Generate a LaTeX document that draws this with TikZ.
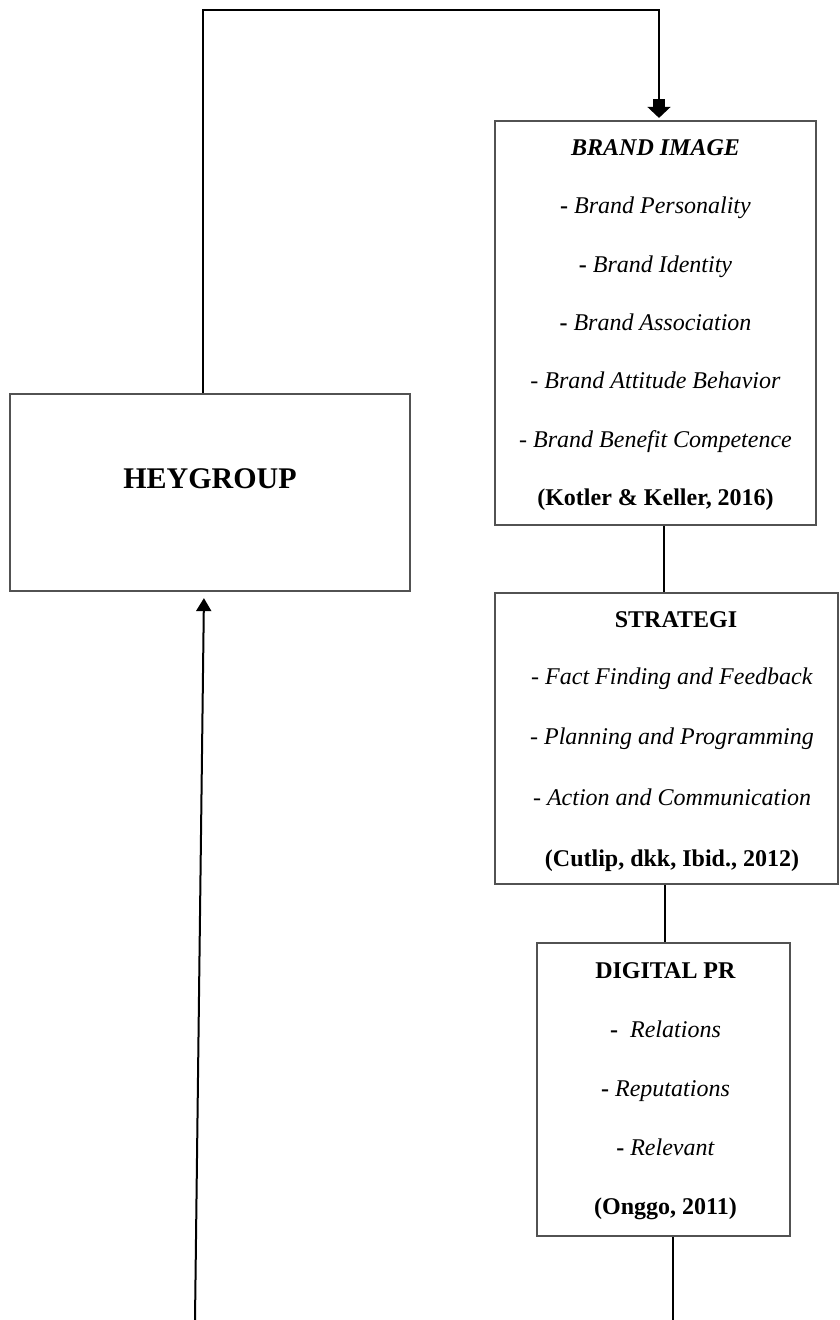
\documentclass[tikz,border=0pt]{standalone}
\usepackage{fontspec}
\setmainfont{Liberation Serif}
\usetikzlibrary{arrows.meta}
\begin{document}
\begin{tikzpicture}[x=1pt,y=-1pt,
  box/.style={draw=black!68, line width=2.2pt, rectangle, inner sep=0pt},
  txt/.style={anchor=base, inner sep=0pt, font=\fontsize{24}{28}\selectfont},
  bigtxt/.style={anchor=base, inner sep=0pt, font=\fontsize{30}{34}\selectfont\bfseries},
  conn/.style={draw=black, line width=1.5pt}]
\fill[white] (0,0) rectangle (840,1320);
\useasboundingbox (0,0) rectangle (840,1320);

% boxes
\node[box, minimum width=400pt, minimum height=197pt] (hey) at (210,492.5) {};
\node[box, minimum width=321pt, minimum height=404pt] (brand) at (655.5,323) {};
\node[box, minimum width=343pt, minimum height=291pt] (strat) at (666.5,738.5) {};
\node[box, minimum width=253pt, minimum height=293pt] (dpr) at (663.5,1089.5) {};

% HEYGROUP text
\node[bigtxt] (heyt) at (210,488) {HEYGROUP};

% Brand image text
\node[txt] (b1) at (655.5,155) {\textbf{\textit{BRAND IMAGE}}};
\node[txt] (b2) at (655.5,213) {\textbf{-} \textit{Brand Personality}};
\node[txt] (b3) at (655.5,272) {\textbf{-} \textit{Brand Identity}};
\node[txt] (b4) at (655.5,330) {\textbf{-} \textit{Brand Association}};
\node[txt] (b5) at (655.5,388) {\textit{- Brand Attitude Behavior}};
\node[txt] (b6) at (655.5,447) {\textit{- Brand Benefit Competence}};
\node[txt] (b7) at (655.5,505) {\textbf{(Kotler \& Keller, 2016)}};

% Strategi text
\node[txt] (s1) at (676,627) {\textbf{STRATEGI}};
\node[txt] (s2) at (672,684) {\textit{- Fact Finding and Feedback}};
\node[txt] (s3) at (672,744) {\textit{- Planning and Programming}};
\node[txt] (s4) at (672,805) {\textit{- Action and Communication}};
\node[txt] (s5) at (672,866) {\textbf{(Cutlip, dkk, Ibid., 2012)}};

% Digital PR text
\node[txt] (d1) at (665.5,978) {\textbf{DIGITAL PR}};
\node[txt] (d2) at (665.5,1037) {\textbf{-}\ \ \textit{Relations}};
\node[txt] (d3) at (665.5,1096) {\textbf{-} \textit{Reputations}};
\node[txt] (d4) at (665.5,1155) {\textbf{-} \textit{Relevant}};
\node[txt] (d5) at (665.5,1214) {\textbf{(Onggo, 2011)}};

% connector coordinates
\coordinate (tl) at (203,10);
\coordinate (tr) at (659,10);
\coordinate (xa) at (664,0);
\coordinate (xb) at (665,0);
\coordinate (bot) at (673,1320);
\coordinate (lb) at (195,1320);
\coordinate (xc) at (204,0);

% connectors
\draw[conn, -{Rectangle[length=8pt,width=12pt,sep=0pt]Triangle[length=11pt,width=23pt,sep=0pt]}, shorten >=2pt]
  (hey.north -| tl) -- (tl) -- (tr) -- (brand.north -| tr);
\draw[conn] (brand.south -| xa) -- (strat.north -| xa);
\draw[conn] (strat.south -| xb) -- (dpr.north -| xb);
\draw[conn] (dpr.south -| bot) -- (bot);
\draw[conn, line width=2pt, -{Triangle[length=13pt,width=15pt]}, shorten >=6pt]
  (lb) -- (hey.south -| xc);
\end{tikzpicture}
\end{document}
